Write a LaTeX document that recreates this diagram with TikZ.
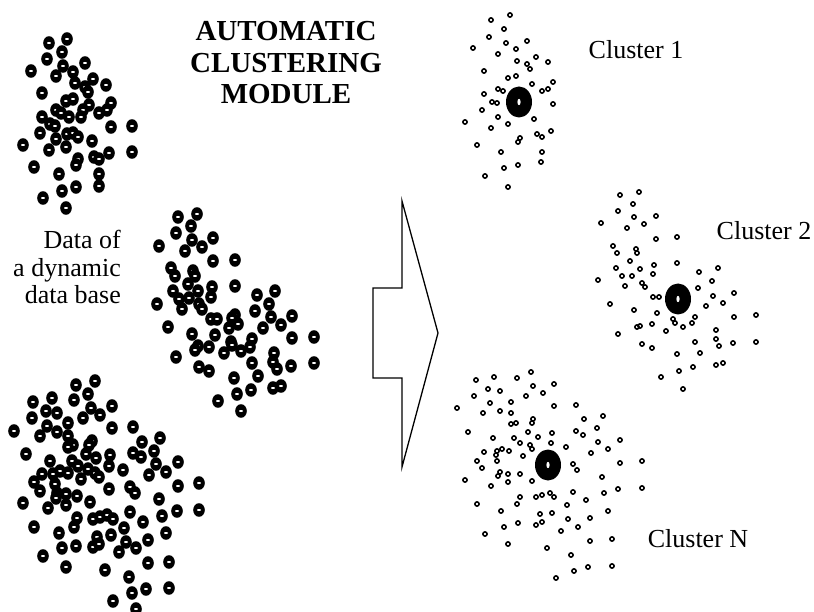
\documentclass[tikz,border=0pt]{standalone}
\usepackage{fontspec}
\setmainfont{Liberation Serif}
\usepackage{tikz}
\usetikzlibrary{positioning}
\tikzset{
  bigdot/.pic={\fill (0,0) ellipse (5.8 and 6.8); \fill[white] (0,0) ellipse (2 and 1);},
  smalldot/.pic={\draw[line width=1.6pt] (0,0) circle (2.1);},
  centre/.pic={\fill (0,0) ellipse (13 and 15.5); \fill[white] (0,0) ellipse (1.6 and 3.2);},
  label/.style={font=\fontsize{26}{27}\selectfont, inner sep=0pt},
  title/.style={font=\fontsize{29}{31.5}\selectfont\bfseries, align=center, inner sep=0pt},
  bigarrow/.style={draw, line width=1.3pt, line join=miter}
}

\begin{document}
\begin{tikzpicture}[x=1pt, y=-1pt]
  \useasboundingbox (0,0) rectangle (814,612);

  % data of the data base
  \foreach \p in {(67,39),(49,43),(62,52),(47,59),(63,66),(85,63),(31,71),(56,76),(73,72),(75,83),
    (93,79),(85,87),(106,85),(88,92),(42,93),(66,101),(73,99),(89,105),(111,103),(107,110),
    (99,113),(83,110),(81,117),(56,110),(61,113),(69,117),(42,117),(50,124),(55,126),(40,133),
    (67,134),(73,133),(78,137),(56,139),(66,147),(92,141),(111,127),(132,126),(23,145),(49,150),
    (78,159),(76,165),(94,157),(99,159),(109,153),(132,152),(34,167),(59,174),(99,174),(99,186),
    (76,187),(62,191),(43,198),(66,208)}
    \pic at \p {bigdot};
  \foreach \p in {(197,214),(178,217),(191,226),(176,233),(213,238),(192,240),(202,247),(185,251),
    (159,246),(213,261),(235,260),(171,268),(175,276),(193,271),(195,276),(188,284),(212,287),
    (235,286),(173,291),(198,291),(211,297),(179,299),(189,298),(157,304),(182,309),(199,304),
    (202,309),(257,295),(275,291),(269,304),(255,311),(211,319),(217,319),(235,315),(232,318),
    (238,324),(229,328),(271,317),(263,328),(281,325),(292,316),(168,327),(192,334),(215,335),
    (231,342),(232,345),(252,339),(250,347),(241,351),(198,346),(195,350),(209,347),(224,353),
    (292,338),(314,337),(274,353),(273,362),(277,369),(291,366),(314,363),(252,363),(176,357),
    (199,367),(209,371),(258,376),(234,378),(251,390),(237,394),(218,401),(241,411),(273,388),
    (281,386)}
    \pic at \p {bigdot};
  \foreach \p in {(95,381),(76,385),(88,394),(52,398),(33,402),(74,400),(112,406),(91,408),(46,411),
    (57,413),(100,415),(83,418),(32,418),(47,426),(68,423),(14,431),(57,432),(40,436),(112,428),
    (133,427),(68,436),(92,441),(89,445),(73,445),(68,447),(142,442),(160,438),(154,451),(26,454),
    (86,454),(110,455),(133,453),(141,457),(96,458),(50,461),(72,461),(78,466),(109,466),(156,464),
    (178,462),(88,469),(123,470),(166,472),(60,471),(53,474),(42,474),(68,473),(95,473),(99,477),
    (149,475),(81,479),(55,484),(34,482),(40,491),(109,489),(130,487),(135,493),(178,486),(199,483),
    (57,493),(66,494),(77,496),(56,498),(66,505),(23,503),(90,502),(48,508),(159,499),(130,512),
    (177,511),(199,510),(162,516),(77,518),(93,519),(100,517),(107,515),(113,519),(74,527),(143,522),
    (124,528),(34,527),(59,533),(111,535),(97,537),(166,533),(126,542),(148,540),(62,548),(76,546),
    (93,547),(99,544),(119,552),(136,548),(43,556),(66,567),(105,570),(148,563),(169,562),(129,577),
    (146,589),(169,588),(132,593),(113,601),(136,609)}
    \pic at \p {bigdot};

  % clusters
  \foreach \p in {(510,15),(491,20),(504,29),(489,37),(506,43),(527,41),(473,48),(516,49),(498,54),
    (536,57),(517,61),(527,64),(548,62),(530,69),(484,71),(516,76),(508,78),(532,84),(553,82),
    (548,89),(542,91),(498,89),(503,91),(484,94),(492,102),(497,103),(553,104),(482,110),(498,117),
    (534,119),(465,122),(508,124),(491,128),(551,131),(537,134),(542,137),(520,138),(518,142),
    (477,145),(501,152),(542,152),(541,162),(518,165),(504,168),(485,176),(508,187)}
    \pic at \p {smalldot};
  \foreach \p in {(639,192),(620,195),(633,204),(618,211),(656,216),(634,217),(601,223),(644,224),
    (627,228),(677,237),(656,239),(613,246),(617,253),(636,249),(637,253),(630,261),(677,263),
    (654,265),(616,268),(640,269),(622,276),(632,276),(653,274),(699,272),(718,268),(598,280),
    (625,286),(642,283),(645,287),(712,281),(698,288),(734,293),(713,296),(653,297),(659,297),
    (723,303),(610,304),(706,306),(634,310),(657,313),(734,317),(756,315),(695,317),(692,323),
    (673,319),(675,323),(683,327),(640,326),(637,327),(652,324),(666,331),(716,330),(716,339),
    (719,346),(733,343),(756,342),(618,334),(695,342),(642,344),(652,348),(700,353),(677,354),
    (716,365),(723,363),(693,367),(679,371),(661,377),(683,389)}
    \pic at \p {smalldot};
  \foreach \p in {(531,372),(494,377),(517,378),(476,380),(554,384),(533,386),(488,389),(500,391),
    (543,393),(474,396),(526,396),(511,402),(490,403),(457,408),(554,406),(576,405),(500,411),
    (483,413),(511,413),(603,416),(584,419),(533,419),(532,423),(511,424),(516,423),(597,428),
    (468,432),(528,432),(552,433),(576,431),(583,435),(493,438),(514,438),(538,437),(598,442),
    (620,440),(520,443),(530,445),(551,443),(566,447),(532,449),(608,449),(502,449),(509,451),
    (497,451),(484,452),(591,453),(496,455),(523,456),(477,461),(497,461),(620,463),(642,461),
    (573,464),(577,470),(482,468),(500,472),(498,476),(508,474),(520,474),(508,482),(465,480),
    (532,481),(602,477),(491,486),(618,489),(642,488),(604,493),(573,492),(550,493),(554,497),
    (536,497),(542,495),(520,497),(517,504),(477,504),(586,500),(567,505),(501,511),(552,513),
    (608,511),(540,514),(590,518),(568,519),(542,522),(536,525),(518,523),(504,527),(578,527),
    (561,531),(485,534),(590,541),(612,539),(508,544),(547,548),(571,555),(574,571),(588,567),
    (612,566),(556,578)}
    \pic at \p {smalldot};
  \pic at (519,102) {centre};
  \pic at (678,299) {centre};
  \pic at (548,465) {centre};

  % arrow
  \coordinate (tip) at (438,333);
  \draw[bigarrow] (373,288) -- (402,288) -- (402,201) -- (tip) -- (402,467)
    -- (402,378) -- (373,378) -- cycle;

  % texts
  \node[title] (module) at (286,63) {AUTOMATIC\\CLUSTERING\\MODULE};
  \node[label, anchor=east, align=right, font=\fontsize{26}{27.5}\selectfont]
    (data) at (121,267) {Data of\\a dynamic\\data base};
  \node[label] (c1) at (636,50) {Cluster 1};
  \node[label] (c2) at (764,231) {Cluster 2};
  \node[label] (cn) at (698,539) {Cluster N};
\end{tikzpicture}
\end{document}
